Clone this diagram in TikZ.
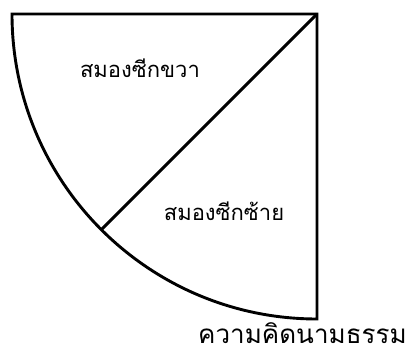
\documentclass[tikz,border=0pt]{standalone}
\usepackage{fontspec}
\newfontfamily\thaifont[Script=Thai]{Loma}
\usetikzlibrary{calc}
\begin{document}
\begin{tikzpicture}[x=1pt,y=1pt,
    rim/.style={draw=black,line width=2.9pt,line join=miter},
    lbl/.style={font=\thaifont\fontsize{22}{24}\selectfont,inner sep=0pt}]
  \useasboundingbox (0,0) rectangle (413,345);
  % quarter disc, centre at the top right corner
  \coordinate (o) at (317,331);
  \coordinate (w) at (12,331);
  \coordinate (m) at ($(o)+(225:305)$);
  \draw[rim] (w) arc[start angle=180,end angle=270,radius=305] coordinate (s) -- (o) -- cycle;
  \draw[rim] (o) -- (m);
  % labels
  \node[lbl] (right) at (140,277) {สมองซีกขวา};
  \node[lbl] (left) at (224,134) {สมองซีกซ้าย};
  \node[lbl,font=\thaifont\fontsize{26}{30}\selectfont,anchor=south west] (abstr) at (198,1) {ความคิดนามธรรม};
\end{tikzpicture}
\end{document}
